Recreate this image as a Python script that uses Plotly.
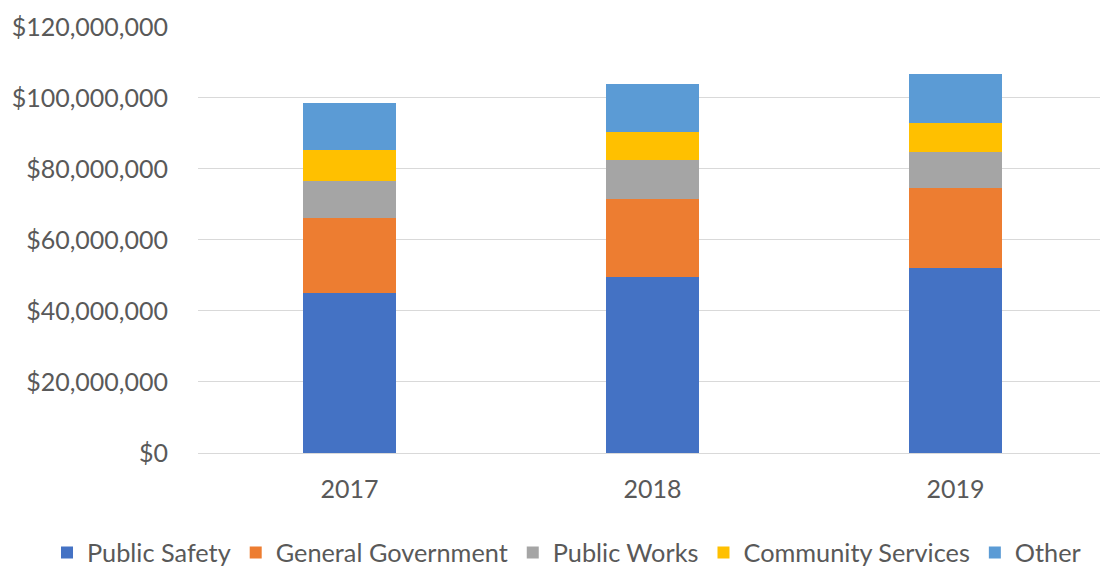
import plotly.graph_objects as go

years = ["2017", "2018", "2019"]
public_safety = [45.2e6, 49.5e6, 52.0e6]
general_government = [20.9e6, 22.0e6, 22.6e6]
public_works = [10.6e6, 11.0e6, 10.3e6]
community_services = [8.5e6, 8.0e6, 8.1e6]
other = [13.5e6, 13.5e6, 13.7e6]

y_tickvals = [0, 20e6, 40e6, 60e6, 80e6, 100e6, 120e6]
y_ticktext = ["$0", "$20,000,000", "$40,000,000", "$60,000,000",
              "$80,000,000", "$100,000,000", "$120,000,000"]

series = [
    ("Public Safety", public_safety, "#4472C4"),
    ("General Government", general_government, "#ED7D31"),
    ("Public Works", public_works, "#A5A5A5"),
    ("Community Services", community_services, "#FFC000"),
    ("Other", other, "#5B9BD5"),
]

fig = go.Figure()
for name, vals, color in series:
    fig.add_trace(go.Bar(x=years, y=vals, name=name, marker_color=color,
                         marker_line_width=0, width=0.31))

family = "Lato, Carlito, Calibri, sans-serif"
tickfont = dict(family=family, size=25, color="#595959")
legfont = dict(family=family, size=25.3, color="#595959")
fig.update_layout(
    width=1100, height=567,
    barmode="stack",
    plot_bgcolor="white", paper_bgcolor="white",
    margin=dict(l=198, r=0, t=26, b=114, autoexpand=False),
    font=tickfont,
    xaxis=dict(type="category", range=[-0.5, 2.477], showgrid=False,
               showline=True, linecolor="#D9D9D9", linewidth=1,
               ticks="", ticklabelstandoff=14, tickfont=tickfont),
    yaxis=dict(range=[0, 120.25e6], tickvals=y_tickvals, ticktext=y_ticktext,
               showgrid=True, gridcolor="#D9D9D9",
               gridwidth=1, zeroline=False,
               ticks="", ticklabelstandoff=29, tickfont=tickfont),
    legend=dict(orientation="h", x=-0.1674, xanchor="left", y=-0.233, yanchor="middle",
                traceorder="normal", font=legfont, itemwidth=30),
    showlegend=True,
)

fig.write_html("out.html", config={"displayModeBar": False},
               post_script="document.body.style.margin='0';document.body.style.overflow='hidden';")
